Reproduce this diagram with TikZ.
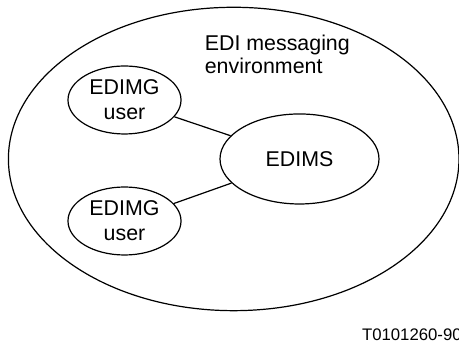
\documentclass[tikz,border=0pt]{standalone}
\usepackage{fontspec}
\setmainfont{Liberation Sans}
\usetikzlibrary{shapes.geometric}

\begin{document}
\begin{tikzpicture}[font=\fontsize{10.6}{12.4}\selectfont, line width=0.6pt,
    blob/.style={draw, ellipse, inner sep=0pt, align=center},
    user/.style={blob, minimum width=1.97cm, minimum height=1.185cm}]
    \useasboundingbox (0, 0) rectangle (8, 5.978);

    \node (env) [blob, minimum width=7.853cm, minimum height=5.288cm] at (4.073, 3.207) {};
    \node (envlabel) [anchor=north west, inner sep=0pt, align=left, font=\fontsize{10.6}{11.4}\selectfont] at (3.56, 5.386) {EDI messaging\\environment};
    \node (user1) [user] at (2.17, 4.235) {EDIMG\\user};
    \node (user2) [user] at (2.17, 2.126) {EDIMG\\user};
    \node (edims) [blob, minimum width=2.771cm, minimum height=1.569cm] at (5.22, 3.207) {EDIMS};
    \node (fignum) [anchor=base west, inner sep=0pt, font=\fontsize{8.3}{9}\selectfont] at (6.3, 0.04) {T0101260-90};

    \draw (user1) -- (edims);
    \draw (user2) -- (edims);
\end{tikzpicture}
\end{document}
